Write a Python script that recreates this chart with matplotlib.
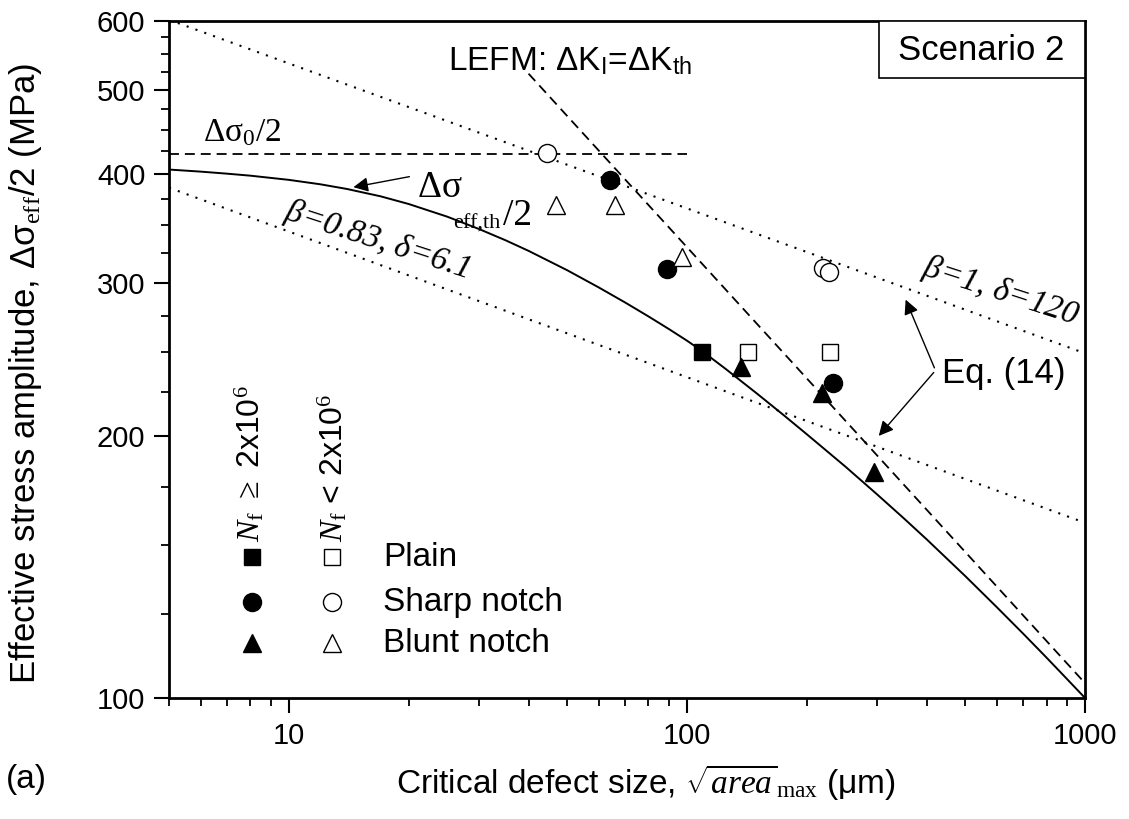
import matplotlib
matplotlib.use("Agg")
import matplotlib.pyplot as plt
import matplotlib.ticker as ticker
from matplotlib.patches import Rectangle

plt.rcParams['font.family'] = ['Liberation Sans', 'DejaVu Sans']
plt.rcParams['mathtext.fontset'] = 'custom'
plt.rcParams['mathtext.rm'] = 'Liberation Serif'
plt.rcParams['mathtext.it'] = 'Liberation Serif:italic'
plt.rcParams['mathtext.bf'] = 'Liberation Serif:bold'
plt.rcParams['mathtext.sf'] = 'Liberation Sans'

# Datos experimentales (sqrt(area)_max en um, amplitud en MPa)
plain_run_x = [109]
plain_run_y = [250]
plain_fail_x = [142, 229]
plain_fail_y = [250, 250]
sharp_run_x = [64, 89, 233]
sharp_run_y = [394, 311, 230]
sharp_fail_x = [44.6, 220, 228]
sharp_fail_y = [423, 312, 309]
blunt_run_x = [137, 218, 295]
blunt_run_y = [240, 224, 182]
blunt_fail_x = [47, 66, 97]
blunt_fail_y = [369, 369, 321]

# Curvas
curve_x = [5, 6, 7, 8, 10, 12, 14, 17, 20, 25, 30, 35, 40, 50, 60, 70, 80, 90, 100,
           109, 125, 150, 175, 200, 250, 300, 350, 400, 500, 600, 700, 800, 900, 1000]
curve_y = [405, 402.8, 400.6, 398.5, 394.1, 389.5, 384.7, 377.3, 369.7, 357.5, 346.1,
           335.9, 326.6, 310.3, 296.5, 284.8, 274.6, 265.6, 257.5, 250.6, 239.0, 223.8,
           211.4, 201.0, 184.5, 171.5, 161.0, 152.2, 138.1, 127.2, 118.5, 111.3, 105.2, 100]
lefm_x = [40, 1000]
lefm_y = [522, 104]
sigma0_x = [5, 100]
sigma0_y = [422, 422]
eq14_up_x = [5, 1000]
eq14_up_y = [602, 249]
eq14_low_x = [5, 1000]
eq14_low_y = [386, 159]

y_major = [100, 200, 300, 400, 500, 600]
y_minor = [125, 150, 175, 225, 250, 275, 325, 350, 375, 425, 450, 475, 525, 550, 575]

fig = plt.figure(figsize=(11.29, 8.19), dpi=100)
ax = fig.add_axes([0.1497, 0.1477, 0.8114, 0.8266])
ax.set_xscale('log')
ax.set_yscale('log')

# Lineas del modelo
ax.plot(curve_x, curve_y, '-k', linewidth=1.4)
ax.plot(lefm_x, lefm_y, color='k', linewidth=1.3, linestyle=(0, (5.5, 3.3)))
ax.plot(sigma0_x, sigma0_y, color='k', linewidth=1.3, linestyle=(0, (5.5, 3.3)))
ax.plot(eq14_up_x, eq14_up_y, color='k', linewidth=1.5, linestyle=(0, (1, 3.5)))
ax.plot(eq14_low_x, eq14_low_y, color='k', linewidth=1.5, linestyle=(0, (1, 3.5)))

# Puntos
ax.plot(plain_run_x, plain_run_y, 'ks', markersize=11, linestyle='none')
ax.plot(plain_fail_x, plain_fail_y, 's', mfc='white', mec='k', mew=1, markersize=11, linestyle='none')
ax.plot(sharp_run_x, sharp_run_y, 'ko', markersize=13, linestyle='none')
ax.plot(sharp_fail_x, sharp_fail_y, 'o', mfc='white', mec='k', mew=1, markersize=13, linestyle='none')
ax.plot(blunt_run_x, blunt_run_y, 'k^', markersize=13.5, linestyle='none')
ax.plot(blunt_fail_x, blunt_fail_y, '^', mfc='white', mec='k', mew=1, markersize=13.5, linestyle='none')

ax.set_xlim(5, 1000)
ax.set_ylim(100, 600)

# Ejes
ax.set_yticks(y_major)
ax.set_yticklabels([str(v) for v in y_major])
ax.set_yticks(y_minor, minor=True)
ax.yaxis.set_minor_formatter(ticker.NullFormatter())
ax.xaxis.set_major_locator(ticker.LogLocator(base=10))
ax.xaxis.set_minor_locator(ticker.LogLocator(base=10, subs=range(2, 10)))
ax.xaxis.set_major_formatter(ticker.FuncFormatter(lambda v, p: '%d' % v))
ax.xaxis.set_minor_formatter(ticker.NullFormatter())
ax.tick_params(which='major', direction='out', length=11, width=1.5, labelsize=21, pad=6)
ax.tick_params(which='minor', direction='out', length=6, width=1.3)
for s in ax.spines.values():
    s.set_linewidth(2)

ax.set_xlabel(r'Critical defect size, $\sqrt{area}_{\mathrm{max}}$ ($\mathsf{\mu}$m)', fontsize=24)
ax.xaxis.set_label_coords(0.52, -0.095)
ax.set_ylabel(r'Effective stress amplitude, $\mathsf{\Delta\sigma}_{\mathrm{eff}}$/2 (MPa)', fontsize=25)
ax.yaxis.set_label_coords(-0.137, 0.48)
fig.text(0.005, 0.048, '(a)', fontsize=24, va='center')

# Anotaciones
ax.text(25.1, 527, r'LEFM: $\mathsf{\Delta K}_\mathsf{I}$=$\mathsf{\Delta K}_\mathsf{th}$', fontsize=24, va='baseline')
ax.text(6.09, 436, r'$\mathrm{\Delta\sigma_0/2}$', fontsize=24, va='baseline')
ax.text(21.0, 377, r'$\mathrm{\Delta\sigma}$', fontsize=27, va='baseline')
ax.text(25.9, 346, 'eff,th', fontsize=16, va='baseline', family='Liberation Serif')
ax.text(34.6, 350, '/2', fontsize=27, va='baseline', family='Liberation Serif')
ax.annotate('', xy=(14.3, 386), xytext=(20.4, 398),
            arrowprops=dict(arrowstyle='-|>', color='k', lw=1, mutation_scale=22))
ax.text(16.7, 336, r'$\beta$=0.83, $\delta$=6.1', fontsize=24, family='Liberation Serif',
        style='italic', rotation=-18, ha='center', va='center', rotation_mode='anchor')
ax.text(613, 293, r'$\beta$=1, $\delta$=120', fontsize=24, family='Liberation Serif',
        style='italic', rotation=-18, ha='center', va='center', rotation_mode='anchor')
ax.text(438, 230, 'Eq. (14)', fontsize=25, va='baseline')
ax.annotate('', xy=(352, 289), xytext=(421, 238),
            arrowprops=dict(arrowstyle='-|>', color='k', lw=1, mutation_scale=22))
ax.annotate('', xy=(300, 199), xytext=(421, 238),
            arrowprops=dict(arrowstyle='-|>', color='k', lw=1, mutation_scale=22))

# Caja Scenario 2
ax.add_patch(Rectangle((0.775, 0.916), 0.225, 0.084, transform=ax.transAxes,
                       facecolor='white', edgecolor='k', lw=1.2, zorder=5))
ax.text(0.887, 0.957, 'Scenario 2', transform=ax.transAxes, fontsize=25,
        ha='center', va='center', zorder=6)

# Leyenda manual
ax.text(0.0884, 0.2304, r'$N_{\mathrm{f}}$ $\geq$ 2x10$^6$', transform=ax.transAxes,
        fontsize=23, rotation=90, ha='center', va='bottom')
ax.text(0.179, 0.2304, r'$N_{\mathrm{f}}$ < 2x10$^6$', transform=ax.transAxes,
        fontsize=23, rotation=90, ha='center', va='bottom')
filas = [0.2083, 0.1418, 0.0812]
marcas = ['s', 'o', '^']
tamanos = [11, 13, 13.5]
nombres = ['Plain', 'Sharp notch', 'Blunt notch']
for yy, m, ms, nom in zip(filas, marcas, tamanos, nombres):
    ax.plot([0.0906], [yy], marker=m, color='k', markersize=ms, transform=ax.transAxes, linestyle='none')
    ax.plot([0.178], [yy], marker=m, mfc='white', mec='k', mew=1, markersize=ms,
            transform=ax.transAxes, linestyle='none')
    ax.text(0.2336, yy, nom, transform=ax.transAxes, fontsize=24, va='center')

plt.savefig('out.png', dpi=100)
